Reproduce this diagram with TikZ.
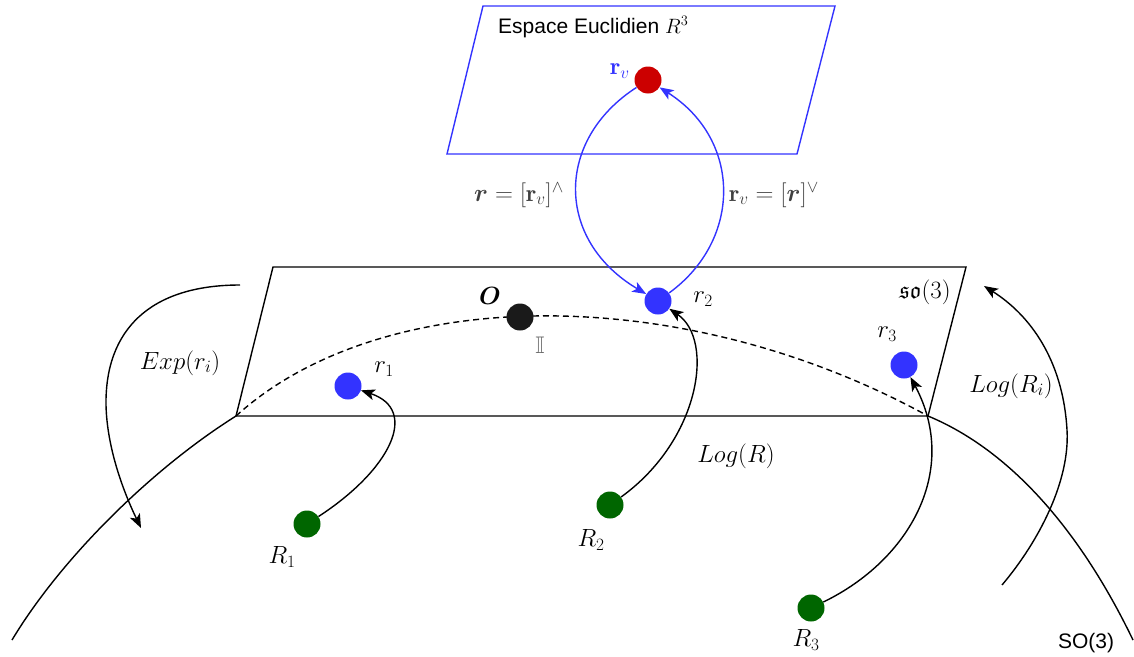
\documentclass[tikz,border=0pt]{standalone}
\usepackage{amsmath,amssymb,bm}
\usepackage{fontspec}
\newfontfamily\labelsans{Liberation Sans}
\usetikzlibrary{arrows.meta}
\definecolor{dotblue}{HTML}{3333FF}
\definecolor{dotred}{HTML}{CC0000}
\definecolor{dotgreen}{HTML}{006600}
\definecolor{dotblack}{HTML}{1A1A1A}
\tikzset{
  pt/.style={circle,inner sep=0pt,minimum size=27pt},
  bluept/.style={pt,fill=dotblue},
  redpt/.style={pt,fill=dotred},
  greenpt/.style={pt,fill=dotgreen},
  blackpt/.style={pt,fill=dotblack},
  mlabel/.style={font=\fontsize{24}{28}\selectfont,inner sep=0pt},
  slabel/.style={font=\labelsans\fontsize{21}{25}\selectfont,inner sep=0pt},
  conn/.style={line width=1.4pt,-{Stealth[length=14pt,width=11pt,inset=3.5pt]}},
  bconn/.style={conn,draw=dotblue},
  plane/.style={line width=1.4pt},
  dashline/.style={line width=1.4pt,dash pattern=on 6pt off 4pt}
}
\begin{document}
\begin{tikzpicture}[x=1pt,y=-1pt]
\useasboundingbox (0,0) rectangle (1134,656);
% Euclidean plane
\coordinate (eTL) at (483,6);
\coordinate (eTR) at (835,6);
\coordinate (eBR) at (797,154);
\coordinate (eBL) at (447,154);
\draw[plane,draw=dotblue] (eTL) -- (eTR) -- (eBR) -- (eBL) -- cycle;
\node[slabel,anchor=base west] (esp) at (498,33) {Espace Euclidien $R^3$};
% so(3) plane
\coordinate (pTL) at (273,267);
\coordinate (pTR) at (966,267);
\coordinate (pBR) at (928,416);
\coordinate (pBL) at (236,416);
\draw[plane] (pTL) -- (pTR) -- (pBR) -- (pBL) -- cycle;
\draw[dashline] (pBL) .. controls (380,285) and (680,280) .. (pBR);
% manifold SO(3)
\coordinate (mL) at (12,640);
\coordinate (mR) at (1133,640);
\draw[plane] (mL) .. controls (60,560) and (150,470) .. (pBL);
\draw[plane] (pBR) .. controls (1010,450) and (1080,530) .. (mR);
% dots
\node[redpt] (rv) at (648,80) {};
\node[blackpt] (O) at (520,317) {};
\node[bluept] (r1) at (348,386) {};
\node[bluept] (r2) at (658,301) {};
\node[bluept] (r3) at (904,365) {};
\node[greenpt] (R1) at (307,524) {};
\node[greenpt] (R2) at (610,505) {};
\node[greenpt] (R3) at (811,608) {};
% labels
\node[mlabel,text=dotblue] (rvl) at (620,71) {$\mathbf{r}_v$};
\node[mlabel,text=black!75] (hatl) at (519,195) {$\bm{r}=[\mathbf{r}_v]^{\wedge}$};
\node[mlabel,text=black!75] (veel) at (774,195) {$\mathbf{r}_v=[\bm{r}]^{\vee}$};
\node[mlabel] (Ol) at (490,296) {$\bm{O}$};
\node[mlabel,text=black!60] (Il) at (540,345) {$\mathbb{I}$};
\node[mlabel] (r1l) at (384,369) {$r_1$};
\node[mlabel] (r2l) at (703,299) {$r_2$};
\node[mlabel] (r3l) at (887,334) {$r_3$};
\node[mlabel] (sol) at (925,292) {$\mathfrak{so}(3)$};
\node[mlabel] (expl) at (180,363) {$Exp(r_i)$};
\node[mlabel] (logil) at (1011,386) {$Log(R_i)$};
\node[mlabel] (logl) at (736,456) {$Log(R)$};
\node[mlabel] (R1l) at (282,557) {$R_1$};
\node[mlabel] (R2l) at (591,540) {$R_2$};
\node[mlabel] (R3l) at (806,640) {$R_3$};
\node[slabel] (SOl) at (1086,643) {SO(3)};
% blue connectors
\draw[bconn] (rv) .. controls (555,140) and (555,240) .. (r2);
\draw[bconn] (r2) .. controls (742,240) and (742,140) .. (rv);
% black connectors
\draw[conn] (R1) .. controls (390,470) and (420,410) .. (r1);
\draw[conn] (R2) .. controls (700,440) and (715,340) .. (r2);
\draw[conn] (R3) .. controls (910,560) and (960,470) .. (r3);
\coordinate (expS) at (240,285);
\coordinate (expM) at (106,405);
\coordinate (expE) at (141,528);
\draw[conn] (expS) .. controls (150,285) and (105,330) .. (expM) .. controls (107,450) and (125,495) .. (expE);
\coordinate (logS) at (1002,585);
\coordinate (logM) at (1067,430);
\coordinate (logE) at (984,286);
\draw[conn] (logS) .. controls (1040,540) and (1070,480) .. (logM) .. controls (1063,360) and (1030,315) .. (logE);
\end{tikzpicture}
\end{document}
